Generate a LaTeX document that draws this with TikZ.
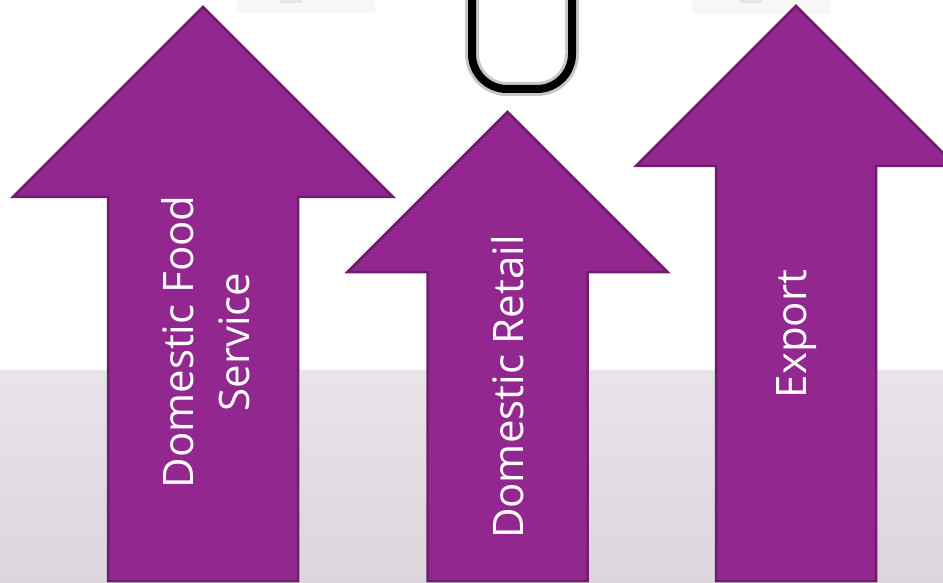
\documentclass[tikz,border=0pt]{standalone}
\usepackage{fontspec}
\setmainfont{Open Sans}
\definecolor{arrowfill}{HTML}{92278F}
\definecolor{arrowline}{HTML}{6E1E6C}
\definecolor{bandtop}{HTML}{E9E4EA}
\definecolor{bandbot}{HTML}{DCD6DC}
\begin{document}
\begin{tikzpicture}[x=1pt,y=-1pt,
  arrowbody/.style={fill=arrowfill,draw=arrowline,line width=2.5pt,line join=miter},
  lbl/.style={text=white,inner sep=0pt,rotate=90,align=center,font=\fontsize{42}{56}\selectfont},
  faint/.style={fill=black!3,draw=none}]
\useasboundingbox (0,0) rectangle (943,583);
\clip (0,0) rectangle (943,583);
\fill[white] (0,0) rectangle (943,583);
% background band
\shade[top color=bandtop,bottom color=bandbot] (0,370) rectangle (943,583);
% faint partial images at the top
\fill[faint] (237,0) rectangle (375,13);
\fill[faint] (692,0) rectangle (830,14);
\fill[black!10] (280,0) rectangle (302,3);
\fill[black!10] (740,0) rectangle (762,3);
% black clip-like U
\draw[black!22,line width=14pt] (472,-5) -- (472,54) arc[start angle=180,end angle=90,radius=35] -- (537,89) arc[start angle=90,end angle=0,radius=35] -- (572,-5);
\draw[black,line width=8pt] (472,-5) -- (472,54) arc[start angle=180,end angle=90,radius=35] -- (537,89) arc[start angle=90,end angle=0,radius=35] -- (572,-5);
% arrows
\draw[arrowbody] (203,7) -- (393,197) -- (298,197) -- (298,581) -- (108,581) -- (108,197) -- (13,197) -- cycle;
\draw[arrowbody] (507.5,112) -- (667.5,272) -- (587.5,272) -- (587.5,581) -- (427.5,581) -- (427.5,272) -- (347.5,272) -- cycle;
\draw[arrowbody] (796,6) -- (956,166) -- (876,166) -- (876,581) -- (716,581) -- (716,166) -- (636,166) -- cycle;
% labels
\node[lbl] (t1) at (206,342) {Domestic Food\\Service};
\node[lbl] (t2) at (508,387) {Domestic Retail};
\node[lbl] (t3) at (797,334) {Export};
\end{tikzpicture}
\end{document}
